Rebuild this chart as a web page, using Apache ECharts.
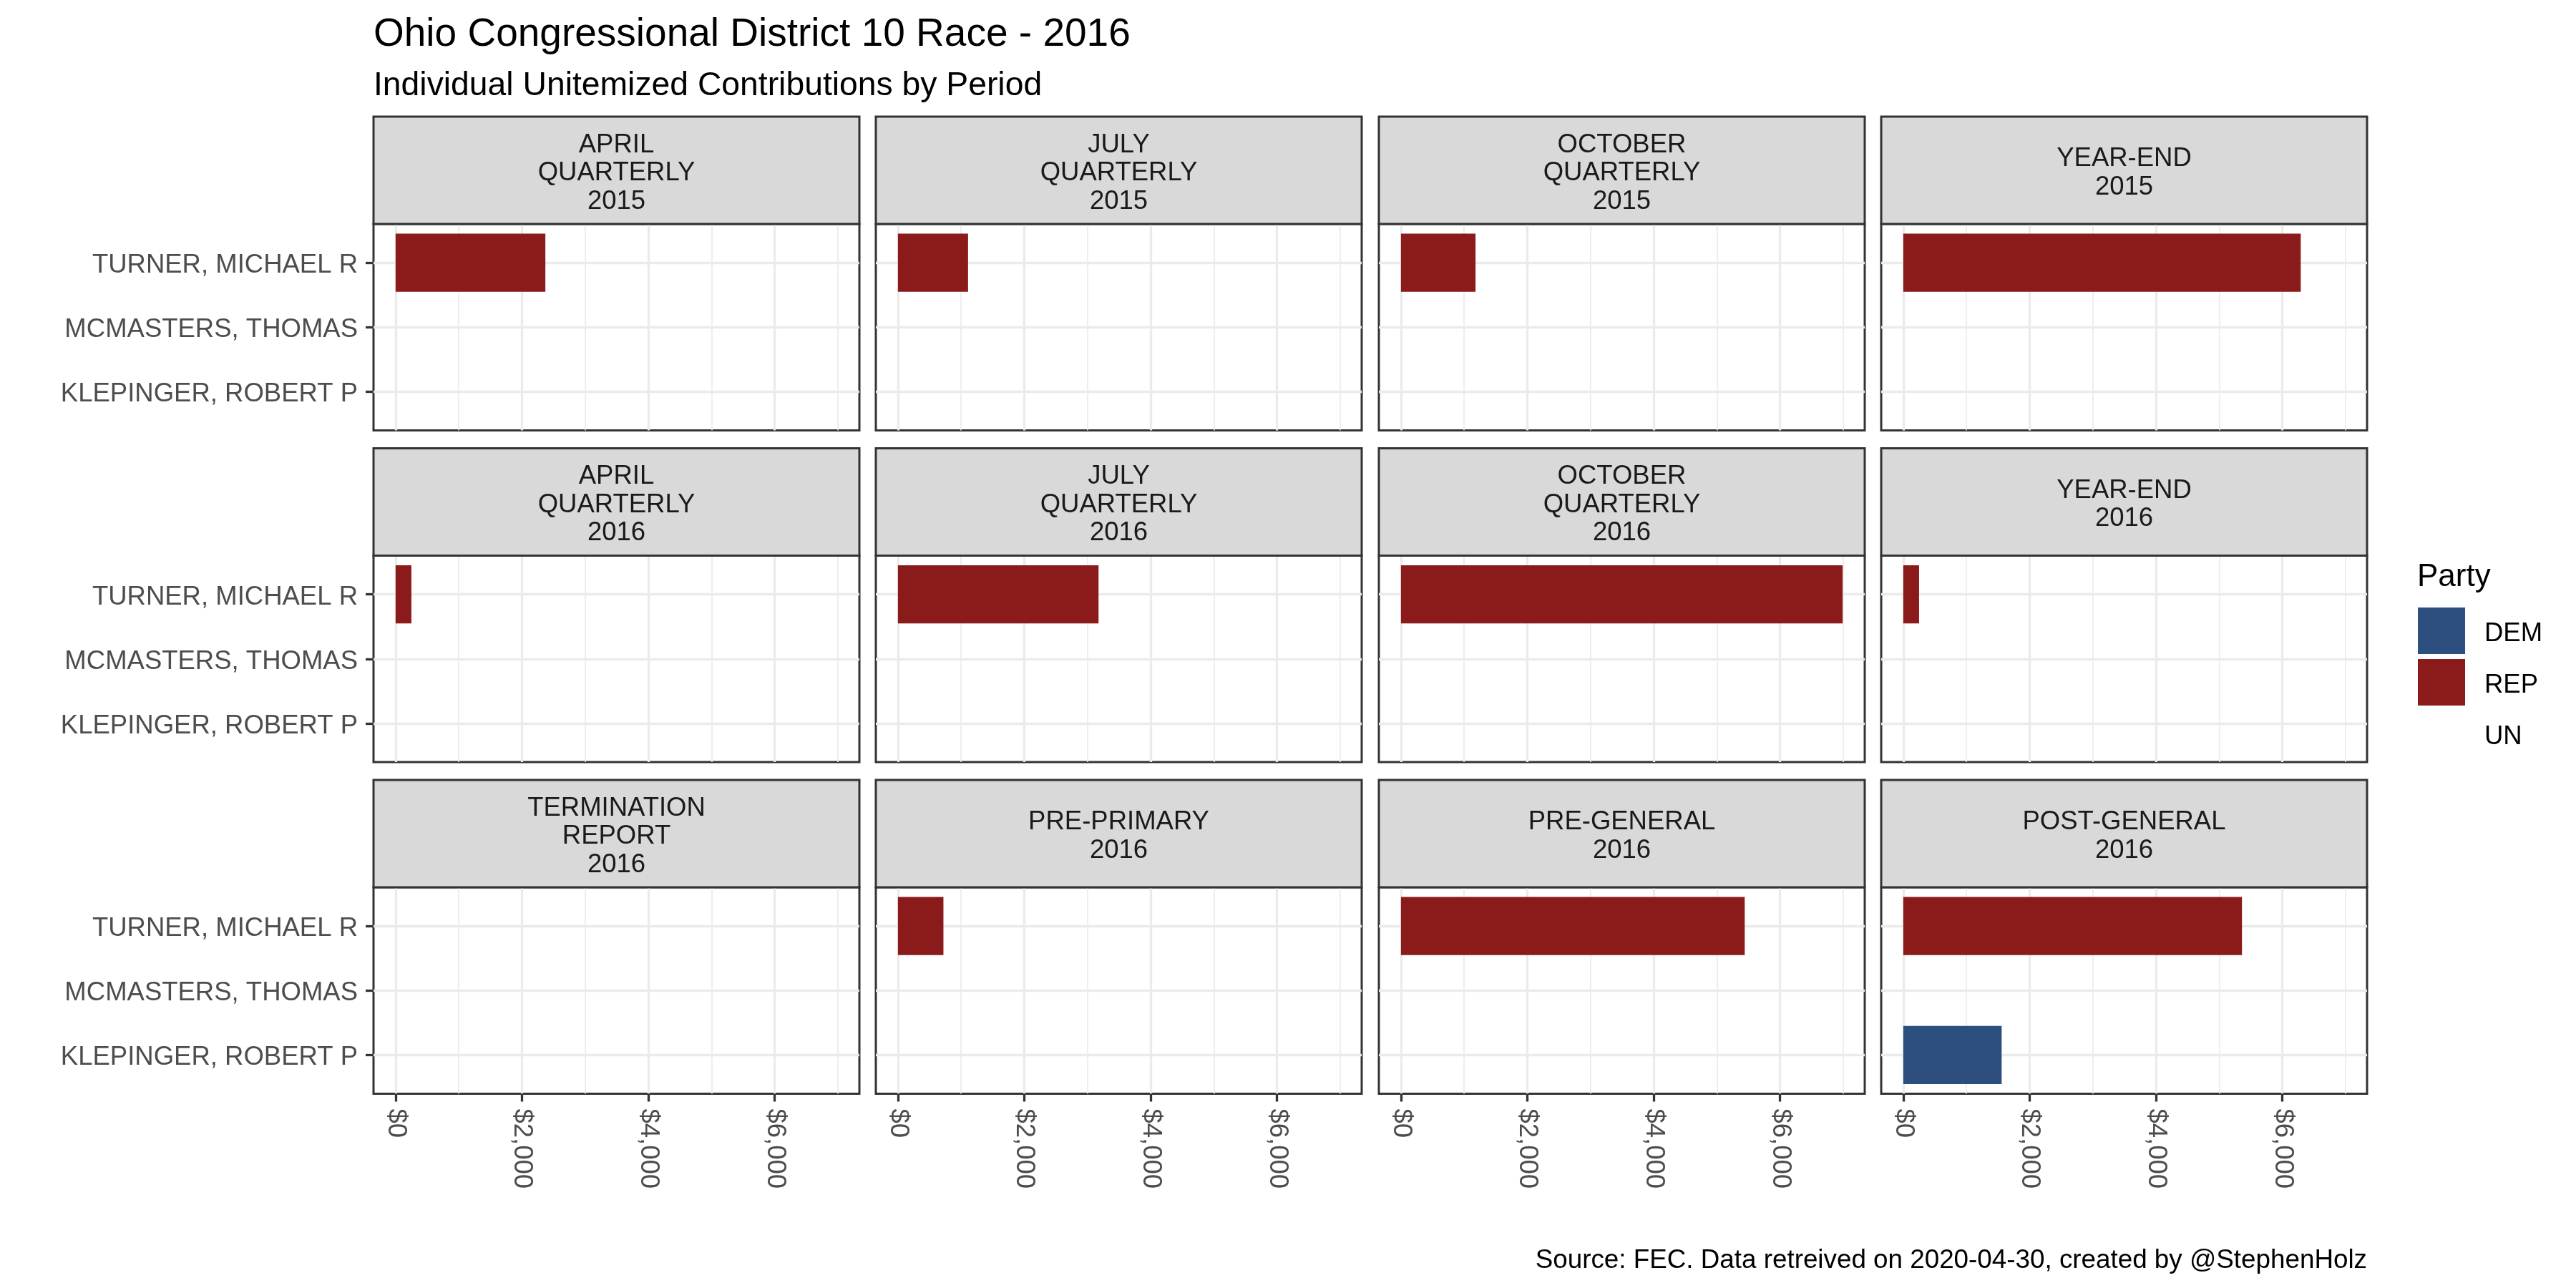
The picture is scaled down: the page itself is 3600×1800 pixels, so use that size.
<!DOCTYPE html>
<html><head><meta charset="utf-8">
<script src="https://cdn.jsdelivr.net/npm/echarts@6/dist/echarts.min.js"></script>
<style>html,body{margin:0;padding:0;background:#fff}#c{width:3600px;height:1800px}</style>
</head><body><div id="c"></div>
<script>
// ---- data ----
const periods = [
  'APRIL\nQUARTERLY\n2015', 'JULY\nQUARTERLY\n2015', 'OCTOBER\nQUARTERLY\n2015', 'YEAR-END\n2015',
  'APRIL\nQUARTERLY\n2016', 'JULY\nQUARTERLY\n2016', 'OCTOBER\nQUARTERLY\n2016', 'YEAR-END\n2016',
  'TERMINATION\nREPORT\n2016', 'PRE-PRIMARY\n2016', 'PRE-GENERAL\n2016', 'POST-GENERAL\n2016'
];
const candidates = ['TURNER, MICHAEL R', 'MCMASTERS, THOMAS', 'KLEPINGER, ROBERT P'];
const candidateParty = ['REP', 'UN', 'DEM'];
const parties = ['DEM', 'REP', 'UN'];
const partyColors = ['#2C4F80', '#8B1A1A', '#FFFFFF'];
const turner    = [2370, 1110, 1180, 6290, 250, 3175, 6990, 250, null, 720, 5440, 5360];
const mcmasters = [null, null, null, null, null, null, null, null, null, null, null, null];
const klepinger = [null, null, null, null, null, null, null, null, null, null, null, 1557];
const xTicks = [0, 2000, 4000, 6000];
const xMinorTicks = [1000, 3000, 5000, 7000];

const valuesByCandidate = [turner, mcmasters, klepinger];
const titleText = 'Ohio Congressional District 10 Race - 2016';
const subtitleText = 'Individual Unitemized Contributions by Period';
const captionText = 'Source: FEC. Data retreived on 2020-04-30, created by @StephenHolz';

// ---- layout ----
const FONT = 'Liberation Sans, Arial, sans-serif';
const colLeft = [522, 1224, 1927, 2629];
const rowTop = [313, 776.5, 1240];
const panelW = 679, panelH = 288.5, stripH = 150;
const unit = panelH / (candidates.length - 1 + 1.2);
const inset = (panelH - unit * candidates.length) / 2;

let maxVal = 0;
valuesByCandidate.forEach(a => a.forEach(v => { if (v != null && v > maxVal) maxVal = v; }));
const xMin = -0.05 * maxVal, xMax = maxVal * 1.05;

const grid = [], xAxis = [], yAxis = [], series = [], graphic = [];
const fmt = v => '$' + Number(v).toLocaleString('en-US');

periods.forEach((p, i) => {
  const r = Math.floor(i / 4), c = i % 4;
  const left = colLeft[c], top = rowTop[r];
  const bottomRow = r === 2, leftCol = c === 0;
  grid.push({left, top, width: panelW, height: panelH, show: true, borderColor: '#333333', borderWidth: 3,
    backgroundColor: '#FFFFFF', containLabel: false, outerBoundsMode: 'none'});
  grid.push({left, top: top + inset, width: panelW, height: panelH - 2 * inset, show: false,
    containLabel: false, outerBoundsMode: 'none'});
  const g0 = 2 * i, g1 = 2 * i + 1;
  xAxis.push({
    type: 'value', gridIndex: g0, min: xMin, max: xMax, position: 'bottom',
    axisLine: {show: false, onZero: false},
    axisTick: {show: bottomRow, length: 11, lineStyle: {color: '#333333', width: 3.3}, customValues: xTicks},
    axisLabel: {show: bottomRow, customValues: xTicks, rotate: -90, margin: 21, color: '#4D4D4D',
      fontSize: 36.5, fontFamily: FONT, formatter: fmt},
    splitLine: {show: true, lineStyle: {color: '#EBEBEB', width: 3.3}}
  });
  xAxis.push({
    type: 'value', gridIndex: g0, min: xMin, max: xMax, position: 'bottom',
    axisLine: {show: false, onZero: false}, axisTick: {show: false, customValues: xMinorTicks},
    axisLabel: {show: false, customValues: xMinorTicks},
    splitLine: {show: true, lineStyle: {color: '#EBEBEB', width: 1.7}}
  });
  xAxis.push({type: 'value', gridIndex: g1, min: xMin, max: xMax, show: false, axisLine: {onZero: false}});
  const idx = candidates.map((_, j) => j);
  yAxis.push({
    type: 'value', gridIndex: g0, min: -0.6, max: candidates.length - 1 + 0.6, inverse: true, position: 'left',
    axisLine: {show: false, onZero: false}, axisTick: {show: false, customValues: idx},
    axisLabel: {show: false, customValues: idx},
    splitLine: {show: true, lineStyle: {color: '#EBEBEB', width: 3.3}}
  });
  yAxis.push({
    type: 'category', gridIndex: g1, data: candidates, inverse: true, position: 'left',
    axisLine: {show: false, onZero: false},
    axisTick: {show: leftCol, alignWithLabel: true, length: 11, lineStyle: {color: '#333333', width: 3.3}},
    axisLabel: {show: leftCol, margin: 22, color: '#4D4D4D', fontSize: 36.5, fontFamily: FONT,
      formatter: v => '{a|' + v + '}',
      rich: {a: {color: '#4D4D4D', fontSize: 36.5, fontFamily: FONT, padding: [8, 0, 0, 0]}}},
    splitLine: {show: false}
  });
  parties.forEach((party, k) => {
    series.push({
      type: 'bar', name: party, xAxisIndex: 3 * i + 2, yAxisIndex: 2 * i + 1, stack: 'p' + i,
      barWidth: '90%', itemStyle: {color: partyColors[k]},
      data: candidates.map((_, j) => candidateParty[j] === party ? valuesByCandidate[j][i] : null)
    });
  });
  graphic.push({type: 'rect', shape: {x: left, y: top - stripH, width: panelW, height: stripH},
    style: {fill: '#D9D9D9', stroke: '#333333', lineWidth: 3}, z: 1});
  graphic.push({type: 'text', z: 2, style: {text: p, x: left + panelW / 2, y: top - stripH / 2 + 4,
    align: 'center', verticalAlign: 'middle', fontSize: 36.5, fontFamily: FONT, lineHeight: 39.5, fill: '#1A1A1A'}});
});

graphic.push({type: 'text', style: {text: titleText, x: 522, y: 49, align: 'left', verticalAlign: 'middle',
  fontSize: 55, fontFamily: FONT, fill: '#000000'}});
graphic.push({type: 'text', style: {text: subtitleText, x: 522, y: 120, align: 'left', verticalAlign: 'middle',
  fontSize: 46.3, fontFamily: FONT, fill: '#000000'}});
graphic.push({type: 'text', style: {text: captionText, x: 3308, y: 1762, align: 'right', verticalAlign: 'middle',
  fontSize: 36.8, fontFamily: FONT, fill: '#000000'}});
graphic.push({type: 'text', style: {text: 'Party', x: 3378, y: 807, align: 'left', verticalAlign: 'middle',
  fontSize: 44, fontFamily: FONT, fill: '#000000'}});

const chart = echarts.init(document.getElementById('c'));
chart.setOption({
  animation: false,
  backgroundColor: '#FFFFFF',
  grid, xAxis, yAxis, series, graphic,
  legend: {
    data: parties, orient: 'vertical', left: 3379, top: 849, padding: 0,
    itemWidth: 66, itemHeight: 65, itemGap: 7, icon: 'rect', selectedMode: false,
    formatter: '{a|{name}}',
    textStyle: {fontSize: 36.5, fontFamily: FONT, color: '#000000',
      rich: {a: {fontSize: 36.5, fontFamily: FONT, color: '#000000', padding: [8, 0, 0, 22]}}}
  }
});
</script></body></html>
